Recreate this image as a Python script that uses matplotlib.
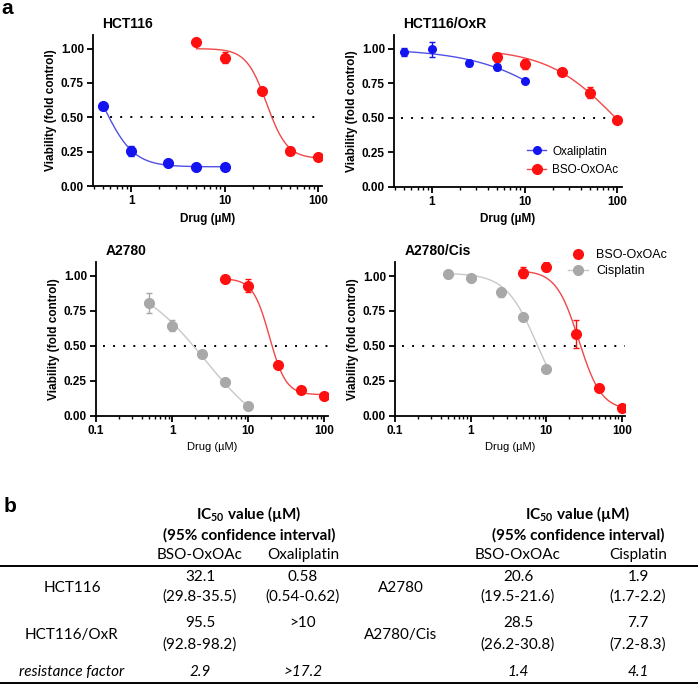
import numpy as np
import matplotlib
matplotlib.use("Agg")
import matplotlib.pyplot as plt
from matplotlib.lines import Line2D
from matplotlib.ticker import FixedLocator, FormatStrFormatter, LogLocator, NullFormatter

plt.rcParams["font.family"] = ["Liberation Sans", "DejaVu Sans"]
plt.rcParams["mathtext.default"] = "regular"

RED, RED_LINE = "#ff1010", "#f04848"
BLUE, BLUE_LINE = "#1414f0", "#5050e8"
GRAY, GRAY_LINE = "#a8a8a8", "#c8c8c8"

conc = [0.5, 1, 2.5, 5, 10]
conc_bso = [5, 10, 25, 50, 100]

# HCT116
hct_oxa = [0.586, 0.253, 0.166, 0.140, 0.140]
hct_oxa_err = [0.0, 0.036, 0.010, 0.020, 0.010]
hct_bso = [1.046, 0.935, 0.694, 0.258, 0.210]
hct_bso_err = [0.0, 0.040, 0.0, 0.025, 0.010]

# HCT116/OxR
oxr_oxa = [0.978, 0.995, 0.898, 0.866, 0.767]
oxr_oxa_err = [0.030, 0.055, 0.020, 0.020, 0.005]
oxr_bso = [0.937, 0.888, 0.830, 0.680, 0.483]
oxr_bso_err = [0.030, 0.035, 0.010, 0.040, 0.005]

# A2780
a27_cis = [0.805, 0.643, 0.440, 0.243, 0.067]
a27_cis_err = [0.074, 0.040, 0.005, 0.005, 0.005]
a27_bso = [0.976, 0.929, 0.362, 0.181, 0.143]
a27_bso_err = [0.005, 0.045, 0.010, 0.005, 0.005]

# A2780/Cis
cis_cis = [1.012, 0.988, 0.883, 0.707, 0.338]
cis_cis_err = [0.005, 0.020, 0.030, 0.005, 0.005]
cis_bso = [1.024, 1.067, 0.585, 0.199, 0.053]
cis_bso_err = [0.040, 0.030, 0.100, 0.005, 0.005]

# 4PL fit parameters: top, bottom, ec50, hill
fit_hct_oxa = [1.0, 0.14, 0.514, 2.73]
fit_hct_bso = [1.0, 0.20, 28.2, 3.96]
fit_oxr_oxa = [1.0, 0.0, 38.9, 0.89]
fit_oxr_bso = [1.0, 0.0, 95.5, 1.167]
fit_a27_cis = [1.0, -0.2, 2.70, 0.957]
fit_a27_bso = [0.98, 0.15, 19.04, 4.0]
fit_cis_cis = [1.02, 0.0, 7.56, 2.1]
fit_cis_bso = [1.04, 0.04, 26.96, 2.9]


def four_pl(x, p):
    top, bottom, ec50, hill = p
    return bottom + (top - bottom) / (1 + (x / ec50) ** hill)


def draw_series(ax, x, y, err, fit, mcol, lcol, ms):
    xs = np.logspace(np.log10(x[0]), np.log10(x[-1]), 200)
    ax.plot(xs, four_pl(xs, fit), color=lcol, lw=1.0, zorder=2)
    ax.errorbar(x, y, yerr=err, fmt="o", color=mcol, ms=ms, capsize=2.5,
                elinewidth=1.0, capthick=1.0, zorder=3)


def style_axes(ax, xlim, title, bold_xlabel):
    ax.set_xscale("log")
    ax.set_xlim(*xlim)
    ax.set_ylim(0, 1.1)
    ax.axhline(0.5, xmin=0.03, xmax=1, color="black", ls=(0, (1, 4.2)), lw=1.4, zorder=1)
    for s in ["top", "right"]:
        ax.spines[s].set_visible(False)
    for s in ["left", "bottom"]:
        ax.spines[s].set_linewidth(1.3)
    ax.yaxis.set_major_locator(FixedLocator([0, 0.25, 0.5, 0.75, 1.0]))
    ax.yaxis.set_major_formatter(FormatStrFormatter("%.2f"))
    ax.xaxis.set_major_locator(LogLocator(base=10, numticks=10))
    ax.xaxis.set_minor_locator(LogLocator(base=10, subs=np.arange(2, 10), numticks=20))
    ax.xaxis.set_minor_formatter(NullFormatter())
    ax.xaxis.set_major_formatter(FormatStrFormatter("%g"))
    ax.tick_params(which="major", length=4.5, width=1.3, labelsize=8.5, pad=2)
    ax.tick_params(which="minor", length=2.5, width=1.0)
    for lab in ax.get_xticklabels() + ax.get_yticklabels():
        lab.set_fontweight("bold")
    ax.set_ylabel("Viability (fold control)", fontsize=8.5, fontweight="bold", labelpad=3)
    ax.set_xlabel("Drug (µM)", fontsize=8.5 if bold_xlabel else 8,
                  fontweight="bold" if bold_xlabel else "normal", labelpad=4)
    ax.set_title(title, loc="left", fontsize=10, fontweight="bold", pad=5, x=0.04)


fig = plt.figure(figsize=(6.98, 6.84), dpi=100)

ax1 = fig.add_axes([0.1332, 0.728, 0.328, 0.221])
draw_series(ax1, conc_bso, hct_bso, hct_bso_err, fit_hct_bso, RED, RED_LINE, 7)
draw_series(ax1, conc, hct_oxa, hct_oxa_err, fit_hct_oxa, BLUE, BLUE_LINE, 7)
style_axes(ax1, (0.39, 110), "HCT116", True)

ax2 = fig.add_axes([0.5645, 0.727, 0.3266, 0.222])
draw_series(ax2, conc_bso, oxr_bso, oxr_bso_err, fit_oxr_bso, RED, RED_LINE, 7)
draw_series(ax2, conc, oxr_oxa, oxr_oxa_err, fit_oxr_oxa, BLUE, BLUE_LINE, 5.5)
style_axes(ax2, (0.39, 112), "HCT116/OxR", True)
h_oxa = Line2D([], [], color=BLUE_LINE, lw=1.0, marker="o", mfc=BLUE, mec=BLUE, ms=5.5)
h_bso = Line2D([], [], color=RED_LINE, lw=1.0, marker="o", mfc=RED, mec=RED, ms=7)
ax2.legend([h_oxa, h_bso], ["Oxaliplatin", "BSO-OxOAc"], loc="lower right",
           bbox_to_anchor=(1.03, 0.0), frameon=False, fontsize=8.5,
           handlelength=1.6, handletextpad=0.5, labelspacing=0.55)

ax3 = fig.add_axes([0.1375, 0.3922, 0.3324, 0.2251])
draw_series(ax3, conc, a27_cis, a27_cis_err, fit_a27_cis, GRAY, GRAY_LINE, 7)
draw_series(ax3, conc_bso, a27_bso, a27_bso_err, fit_a27_bso, RED, RED_LINE, 7)
style_axes(ax3, (0.1, 112), "A2780", False)

ax4 = fig.add_axes([0.5659, 0.3922, 0.3295, 0.2247])
draw_series(ax4, conc, cis_cis, cis_cis_err, fit_cis_cis, GRAY, GRAY_LINE, 7)
draw_series(ax4, conc_bso, cis_bso, cis_bso_err, fit_cis_bso, RED, RED_LINE, 7)
style_axes(ax4, (0.1, 110), "A2780/Cis", False)
h_bso2 = Line2D([], [], color=RED, lw=0, marker="o", ms=7)
h_cis = Line2D([], [], color=GRAY_LINE, lw=1.0, marker="o", mfc=GRAY, mec=GRAY, ms=7)
ax4.legend([h_bso2, h_cis], ["BSO-OxOAc", "Cisplatin"], loc="lower left",
           bbox_to_anchor=(0.705, 0.83), frameon=False, fontsize=9,
           handlelength=1.6, handletextpad=0.6, labelspacing=0.3)

# panel letters
fig.text(0.002, 0.988, "a", fontsize=15, fontweight="bold", va="center", ha="left")
fig.text(0.005, 0.259, "b", fontsize=15, fontweight="bold", va="center", ha="left")

# ---- table (panel b) ----
TF = ["Lato", "DejaVu Sans"]


def fy(px):
    return 1 - px / 684


def fx(px):
    return px / 698


col_left = [200, 303]
col_right = [518, 638]
row_label_left = 72
row_label_right = 401

head1 = r"IC$\mathregular{_{50}}$ value (µM)"
head2 = "(95% confidence interval)"
for cx in [249, 578]:
    fig.text(fx(cx), fy(514), head1, family=TF, fontsize=11, fontweight="bold", ha="center", va="center")
    fig.text(fx(cx), fy(535), head2, family=TF, fontsize=11, fontweight="bold", ha="center", va="center")

col_names_left = ["BSO-OxOAc", "Oxaliplatin"]
col_names_right = ["BSO-OxOAc", "Cisplatin"]
row_names_left = ["HCT116", "HCT116/OxR"]
row_names_right = ["A2780", "A2780/Cis"]
ic50_left = [["32.1", "0.58"], ["95.5", ">10"]]
ci_left = [["(29.8-35.5)", "(0.54-0.62)"], ["(92.8-98.2)", ""]]
ic50_right = [["20.6", "1.9"], ["28.5", "7.7"]]
ci_right = [["(19.5-21.6)", "(1.7-2.2)"], ["(26.2-30.8)", "(7.2-8.3)"]]
rf_left = ["2.9", ">17.2"]
rf_right = ["1.4", "4.1"]

row_val_y = [577, 623]
row_ci_y = [597, 645]
row_lab_y = [588, 635]

kw = dict(family=TF, fontsize=11, ha="center", va="center")
for cx, name in zip(col_left + col_right, col_names_left + col_names_right):
    fig.text(fx(cx), fy(555), name, **kw)

for i in range(2):
    fig.text(fx(row_label_left), fy(row_lab_y[i]), row_names_left[i], **kw)
    fig.text(fx(row_label_right), fy(row_lab_y[i]), row_names_right[i], **kw)
    for j in range(2):
        fig.text(fx(col_left[j]), fy(row_val_y[i]), ic50_left[i][j], **kw)
        fig.text(fx(col_left[j]), fy(row_ci_y[i]), ci_left[i][j], **kw)
        fig.text(fx(col_right[j]), fy(row_val_y[i]), ic50_right[i][j], **kw)
        fig.text(fx(col_right[j]), fy(row_ci_y[i]), ci_right[i][j], **kw)

fig.text(fx(row_label_left), fy(672), "resistance factor", style="italic", **kw)
for j in range(2):
    fig.text(fx(col_left[j]), fy(672), rf_left[j], style="italic", **kw)
    fig.text(fx(col_right[j]), fy(672), rf_right[j], style="italic", **kw)

for ypx in [566, 683]:
    fig.add_artist(Line2D([0, 1], [fy(ypx), fy(ypx)], color="black", lw=1.4,
                          transform=fig.transFigure))

fig.savefig("out.png", dpi=100)
